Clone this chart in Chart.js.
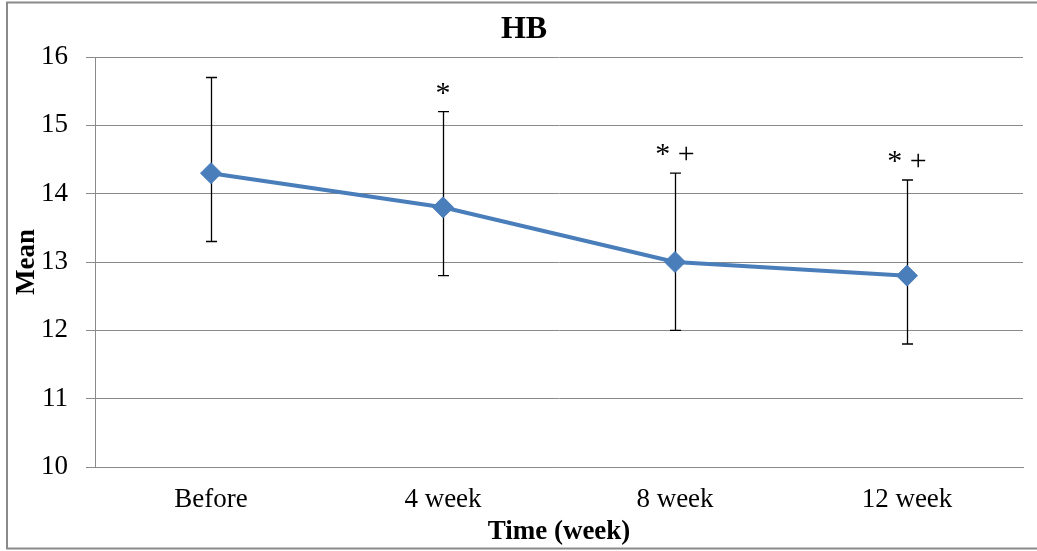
<!DOCTYPE html>
<html>
<head>
<meta charset="utf-8">
<script src="https://cdn.jsdelivr.net/npm/chart.js@4/dist/chart.umd.min.js"></script>
<style>
  html, body { margin: 0; padding: 0; background: #fff; }
  #wrap { width: 1037px; height: 551px; position: relative; }
</style>
</head>
<body>
<div id="wrap"><canvas id="c" width="1037" height="551"></canvas></div>
<script>
// ---- data ----
const categories = ["Before", "4 week", "8 week", "12 week"];
const meanValues = [14.3, 13.8, 13.0, 12.8];
const errLow = [13.3, 12.8, 12.0, 11.8];
const errHigh = [15.7, 15.2, 14.3, 14.2];
const markers = ["", "*", "* +", "* +"];
const yTicks = [10, 11, 12, 13, 14, 15, 16];

const SERIF = "'Liberation Serif', 'Times New Roman', serif";
const BLUE = "#4A7EBB";

const frame = {
  id: 'frame',
  beforeDraw(chart) {
    const ctx = chart.ctx;
    ctx.save();
    ctx.fillStyle = '#fff';
    ctx.fillRect(0, 0, chart.width, chart.height);
    ctx.strokeStyle = '#8a8a8a';
    ctx.lineWidth = 2;
    ctx.strokeRect(7, 2.5, chart.width + 20, 546);
    ctx.restore();
  }
};

const errorBars = {
  id: 'errorBars',
  beforeDatasetsDraw(chart) {
    const ctx = chart.ctx;
    const x = chart.scales.x, y = chart.scales.y;
    ctx.save();
    ctx.strokeStyle = '#000';
    ctx.lineWidth = 1.3;
    categories.forEach((c, i) => {
      const px = Math.round(x.getPixelForValue(i)) + 0.5;
      const yl = y.getPixelForValue(errLow[i]);
      const yh = y.getPixelForValue(errHigh[i]);
      ctx.beginPath();
      ctx.moveTo(px, yl); ctx.lineTo(px, yh);
      ctx.moveTo(px - 5.5, yl); ctx.lineTo(px + 5.5, yl);
      ctx.moveTo(px - 5.5, yh); ctx.lineTo(px + 5.5, yh);
      ctx.stroke();
    });
    ctx.restore();
  },
  afterDatasetsDraw(chart) {
    const ctx = chart.ctx;
    const x = chart.scales.x, y = chart.scales.y;
    ctx.save();
    ctx.fillStyle = '#000';
    ctx.font = "30px " + SERIF;
    ctx.textAlign = 'center';
    ctx.textBaseline = 'alphabetic';
    markers.forEach((m, i) => {
      if (!m) return;
      const px = x.getPixelForValue(i);
      const yh = y.getPixelForValue(errHigh[i]);
      ctx.fillText(m, px, yh - 10);
    });
    ctx.restore();
  }
};

new Chart(document.getElementById('c'), {
  type: 'line',
  data: {
    labels: categories,
    datasets: [{
      label: 'HB',
      data: meanValues,
      borderColor: BLUE,
      backgroundColor: BLUE,
      borderWidth: 4,
      pointStyle: 'rectRot',
      pointRadius: 10.5,
      pointHoverRadius: 10.5,
      pointBackgroundColor: BLUE,
      pointBorderColor: BLUE,
      pointBorderWidth: 1,
      tension: 0
    }]
  },
  plugins: [frame, errorBars],
  options: {
    responsive: false,
    animation: false,
    events: [],
    layout: { padding: { left: 25, right: 14, top: 0, bottom: 0 } },
    plugins: {
      legend: { display: false },
      tooltip: { enabled: false },
      title: {
        display: true,
        text: 'HB',
        color: '#000',
        font: { family: SERIF, size: 32, weight: 'bold', lineHeight: 1.2 },
        padding: { top: 11, bottom: 7.6 }
      }
    },
    scales: {
      x: {
        type: 'category',
        offset: true,
        grid: { display: false, drawTicks: false },
        border: { display: true, color: '#8a8a8a', width: 1 },
        ticks: {
          color: '#000',
          padding: 17,
          font: { family: SERIF, size: 27, lineHeight: 1.2 },
          maxRotation: 0
        },
        title: {
          display: true,
          text: 'Time (week)',
          color: '#000',
          font: { family: SERIF, size: 27, weight: 'bold', lineHeight: 1.2 },
          padding: { top: 0, bottom: 3 }
        },
        afterFit(s) { s.height = 84; }
      },
      y: {
        min: 10,
        max: 16,
        afterBuildTicks(s) { s.ticks = yTicks.map(v => ({ value: v })); },
        grid: { color: '#8a8a8a', lineWidth: 1, tickLength: 9, drawTicks: true },
        border: { display: true, color: '#8a8a8a', width: 1 },
        ticks: {
          color: '#000',
          padding: 18,
          font: { family: SERIF, size: 27, lineHeight: 1.2 }
        },
        title: {
          display: true,
          text: 'Mean',
          color: '#000',
          font: { family: SERIF, size: 27, weight: 'bold', lineHeight: 1.2 },
          padding: { top: -14, bottom: 0 }
        },
        afterFit(s) { s.width = 70; }
      }
    }
  }
});
</script>
</body>
</html>
